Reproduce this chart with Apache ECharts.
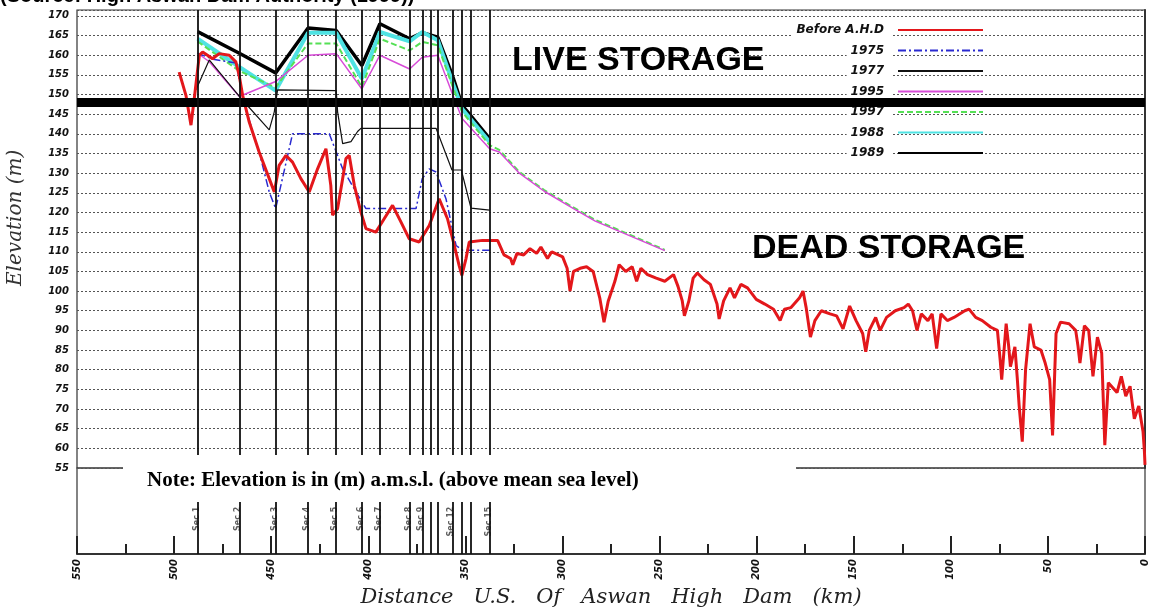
<!DOCTYPE html>
<html><head><meta charset="utf-8">
<script src="https://cdn.jsdelivr.net/npm/echarts@6/dist/echarts.min.js"></script>
<style>html,body{margin:0;padding:0;background:#fff}#c{width:1151px;height:609px}</style>
</head><body><div id="c"></div>
<script>
// ---- data (distance U.S. of Aswan High Dam in km, elevation in m a.m.s.l.) ----
const seriesNames = ['Before A.H.D', '1975', '1977', '1995', '1997', '1988', '1989'];
const yTickValues = [55,60,65,70,75,80,85,90,95,100,105,110,115,120,125,130,135,140,145,150,155,160,165,170];
const xTickValues = [550,500,450,400,350,300,250,200,150,100,50,0];
const sectionKm = [487.9,466.4,447.7,431,416.5,403.3,394,378.7,372.2,368,364.2,356.7,351.7,347,337.5];
const sectionLabels = ['Sec 1','Sec 2','Sec 3','Sec 4','Sec 5','Sec 6','Sec 7','Sec 8','Sec 9','','','Sec 12','','','Sec 15'];
const deadStorageLevel = 148;

const beforeAHD = [
 [497.4,155.7],[493.9,149.8],[491.3,142.2],[489.6,149],[487,160],[485.3,160.8],[482.8,160],[480.2,159.1],[476.8,160.4],[471.6,160],[468.2,158.3],[466.5,154.9],[464.7,149.8],[461.3,143],[456.2,135.4],[451,128.6],[448.4,125.2],[445.9,132],[442.4,134.5],[439,132.8],[434.7,128.6],[430.4,125.2],[426.1,131.1],[421.8,136.2],[419.3,126.9],[418.4,119.3],[415.8,121],[413.2,128.6],[411.5,133.7],[409.8,134.5],[407.2,126.9],[403.8,120.1],[401.2,115.9],[396.1,115],[391.8,118.4],[387.5,121.8],[383.2,117.6],[378.9,113.3],[373.8,112.5],[368.6,116.7],[363.5,123.5],[359.2,118.4],[355.7,111.6],[353.2,106.5],[351.8,104],[349.7,108.2],[348,112.5],[341.2,112.9],
 [333.4,112.9],[330.1,109.2],[326.7,108.3],[325.6,106.7],[323.4,109.6],[320,109.2],[316.7,110.8],[313.3,109.6],[311.1,111.2],[307.7,108.3],[305.5,110],[302.1,109.2],[299.9,108.7],[297.6,105.8],[296.1,100],[294.3,105],[290.9,105.8],[287.6,106.2],[284.2,105],[280.8,98.3],[278.6,92.1],[276.4,97.5],[273,102.5],[270.8,106.7],[267.4,105],[264.1,106.2],[261.8,102.5],[259.6,105.8],[256.2,104.2],[251.7,103.3],[247.3,102.5],[242.8,104.2],[240.5,101.2],[238.3,97.5],[237.2,93.7],[234.9,97.5],[232.7,103.3],[230.5,104.6],[227.1,102.9],[223.8,101.7],[220.4,96.7],[219.3,92.9],[217,97.5],[213.7,100.8],[211.4,98.3],[208.1,101.7],[204.7,100.8],[200.2,97.9],[195.8,96.7],[191.3,95.4],[187.9,92.5],[185.7,95.4],[182.3,95.8],[177.9,98.3],[176.1,100],[174.5,95.8],[172.3,88.3],[170,92.5],[166.7,95],[162.2,94.2],[158.8,93.7],[155.5,90.4],[152.1,96.2],[148.8,92.5],[145.4,89.2],[143.8,84.6],[142,90],[138.7,93.3],[136.4,90],[133.1,93.3],[128.6,95],[124.1,95.8],[121.9,96.7],[119.7,95],[117.4,90],[115.2,94.2],[111.8,92.5],[109.6,94.2],[107.3,85.4],[105.1,94.2],[101.8,92.5],[98.4,93.3],[92.8,95],[90.6,95.4],[87.2,93.3],[83.8,92.5],[79.4,90.8],[76,90],[74.5,82],[73.8,77.5],[71.5,91.7],[70.2,86],[69.3,80.8],[67,85.8],[65.8,78],[64.8,70.8],[63.2,61.7],[61.5,80],[59.2,91.7],[57,85.8],[53.6,85],[51.4,81.7],[49.1,77.5],[47.6,63.3],[45.8,89.2],[43.5,92.1],[39.1,91.7],[35.7,90],[34.5,86],[33.5,81.7],[31.2,91.2],[29,90],[26.8,78.3],[24.5,88.3],[22.3,84.2],[20.7,60.8],[18.9,76.7],[14.4,74.2],[12.2,78.3],[9.9,73.3],[7.7,75.8],[5.5,67.5],[3.2,70.8],[1,64.2],[0.3,59.2],[0,55.8]
];
const y1975 = [[487.9,160.5],[480,159],[468,158],[465,150],[461,143],[456,135],[451,125.2],[447.7,121],[439,140],[420.1,140],[416.5,135.4],[413.2,131.1],[406.3,125.2],[401.2,121],[375.4,121],[372.2,128.6],[368.6,131.1],[365.1,130.3],[360,123.5],[354.8,111.6],[351.5,110.4],[337.5,110.4]];
const y1977 = [[488.7,151.2],[481.9,158.8],[466.4,149.5],[451,141],[448.4,145.6],[446.7,151.2],[416.5,151],[415.8,145.6],[413.2,137.5],[408.9,138],[405.5,140.6],[403.8,141.4],[365.1,141.4],[356.9,130.8],[352.1,130.8],[347.1,121.1],[337.5,120.6]];
const y1995 = [[487.9,160.5],[482,158.4],[466.4,149.5],[447.7,153.3],[431,160],[416.5,160.4],[403.3,151.4],[394,160],[378.7,156.5],[372.2,159.5],[364.2,160],[356.7,150.2],[351.7,143.9],[337.5,136.2],[332.5,135.4],[322.2,130],[309.4,125.4],[296.5,121.6],[283.1,117.8],[247.3,110.3]];
const y1997 = [[487.9,163.5],[466.4,156],[447.7,151.8],[431,163],[416.5,163],[403.3,151.9],[394,164.2],[378.7,161.2],[372.2,163.4],[364.2,162.5],[356.7,152.3],[351.7,145.6],[337.5,137.1],[332.5,135.9],[322.2,130.3],[309.4,125.7],[296.5,121.9],[283.1,118.1],[247.3,110.5]];
const y1988 = [[487.9,164.2],[466.4,157],[447.7,151],[431,165.7],[416.5,165.7],[403.3,154],[394,165.9],[378.7,163.5],[372.2,165.9],[364.2,163.8],[356.7,153.2],[351.7,146.4],[337.5,137.9]];
const y1989 = [[487.9,166],[466.4,160.5],[447.7,155.5],[431,166.9],[416.5,166.3],[403.3,157.4],[394,168],[378.7,164.2],[372.2,165.7],[364.2,164.6],[356.7,154.9],[351.7,147.3],[337.5,138.8]];

const chart = echarts.init(document.getElementById('c'));
const tickFont = {fontFamily:'DejaVu Sans', fontStyle:'italic', fontWeight:'bold', fontSize:10, color:'#111'};
const L = 77, R = 6;

function lineSeries(name, data, color, width, type) {
  return {name, type:'line', data, xAxisIndex:0, yAxisIndex:0, symbol:'none', smooth:false,
    lineStyle:{color, width, type: type || 'solid'}, itemStyle:{color}, silent:true, animation:false};
}

chart.setOption({
  backgroundColor:'#fff',
  animation:false,
  grid:[
    {left:L, right:R, top:10, height:458, show:true, borderColor:'#333', borderWidth:1.2},
    {left:L, right:R, top:468, height:90, show:true, borderColor:'#333', borderWidth:1.2}
  ],
  xAxis:[
    {gridIndex:0, type:'value', inverse:true, min:0, max:550, interval:50,
      axisLine:{show:false}, axisTick:{show:false}, axisLabel:{show:false}, splitLine:{show:false}},
    {gridIndex:1, type:'value', inverse:true, min:0, max:550, interval:50,
      axisLine:{show:true, lineStyle:{color:'#333', width:2}},
      axisTick:{show:true, inside:true, length:18, lineStyle:{color:'#222', width:2}},
      minorTick:{show:true, splitNumber:2, length:10, lineStyle:{color:'#222', width:2}},
      axisLabel:Object.assign({rotate:90, margin:5,
        formatter:v => xTickValues.includes(v) ? String(v) : ''}, tickFont),
      splitLine:{show:false},
      name:'Distance   U.S.   Of   Aswan   High   Dam   (km)', nameLocation:'middle', nameGap:33,
      nameTextStyle:{fontFamily:'DejaVu Serif', fontStyle:'italic', fontSize:21, color:'#222'}}
  ],
  yAxis:[
    {gridIndex:0, type:'value', min:55, max:171.5, interval:5,
      axisLine:{show:true, lineStyle:{color:'#333', width:2}}, axisTick:{show:false},
      axisLabel:Object.assign({margin:8, formatter:v => yTickValues.includes(v) ? String(v) : ''}, tickFont),
      splitLine:{show:true, lineStyle:{color:'#555', width:1, type:[2,2]}}},
    {gridIndex:1, type:'value', min:0, max:1, show:false}
  ],
  legend:{
    data:seriesNames, orient:'vertical', align:'right', right:162, top:18,
    itemWidth:85, itemHeight:14, itemGap:6.5,
    itemStyle:{opacity:0},
    textStyle:{fontFamily:'DejaVu Sans', fontStyle:'italic', fontWeight:'bold', fontSize:12, color:'#111',
      backgroundColor:'#fff', padding:[1,9,1,4]}
  },
  series:[
    lineSeries('1989', y1989, '#000000', 3.5),
    lineSeries('1988', y1988, '#4fe3e3', 4),
    lineSeries('1997', y1997, '#55e055', 2, [6,3]),
    lineSeries('1995', y1995, '#d84bd8', 1.5),
    lineSeries('1977', y1977, '#111111', 1.2),
    lineSeries('1975', y1975, '#2a2ad0', 1.5, [8,3,2,3]),
    Object.assign(lineSeries('Before A.H.D', beforeAHD, '#e3171b', 3), {
      markLine:{silent:true, symbol:['none','none'], label:{show:false}, animation:false,
        lineStyle:{color:'#000', width:9, type:'solid'}, data:[{yAxis:deadStorageLevel}]}
    }),
    {name:'sections', type:'line', xAxisIndex:0, yAxisIndex:0, data:[[sectionKm[0], null]], symbol:'none', silent:true,
      markLine:{silent:true, symbol:['none','none'], label:{show:false}, animation:false,
        lineStyle:{color:'#111', width:1.8, type:'solid'}, data:sectionKm.map(v => ({xAxis:v}))}},
    {name:'sectionsLow', type:'line', xAxisIndex:1, yAxisIndex:1, data:[[sectionKm[0], null]], symbol:'none', silent:true,
      markLine:{silent:true, symbol:['none','none'], label:{show:false}, animation:false,
        lineStyle:{color:'#111', width:1.8, type:'solid'}, data:sectionKm.map(v => ({xAxis:v}))}},
    {name:'sectionLabels', type:'scatter', xAxisIndex:1, yAxisIndex:1, symbolSize:0, silent:true,
      data:sectionKm.map((v,i) => ({value:[v, 0.55], name:sectionLabels[i]})),
      label:{show:true, rotate:90, position:'left', distance:1, formatter:p => p.name,
        fontFamily:'DejaVu Sans', fontSize:8, fontWeight:'bold', color:'#333'}}
  ],
  graphic:[
    {type:'text', left:0, top:-14, z:100, style:{text:'(Source: High Aswan Dam Authority (1999))',
      font:'bold 20px "Liberation Sans"', fill:'#000'}},
    {type:'text', x:512, y:44, z:100, style:{text:'LIVE STORAGE', font:'bold 34px "Liberation Sans"', fill:'#000'}},
    {type:'text', x:752, y:232, z:100, style:{text:'DEAD STORAGE', font:'bold 34px "Liberation Sans"', fill:'#000'}},
    {type:'rect', z:100, shape:{x:123, y:455, width:673, height:47}, style:{fill:'#fff'}},
    {type:'text', x:147, y:470, z:101, style:{text:'Note: Elevation is in (m) a.m.s.l. (above mean sea level)',
      font:'bold 21px "Liberation Serif"', fill:'#000'}},
    {type:'text', x:6, y:286, rotation:Math.PI/2, z:100, style:{text:'Elevation (m)',
      font:'italic 20px "DejaVu Serif"', fill:'#333'}}
  ]
});
</script>
</body></html>
